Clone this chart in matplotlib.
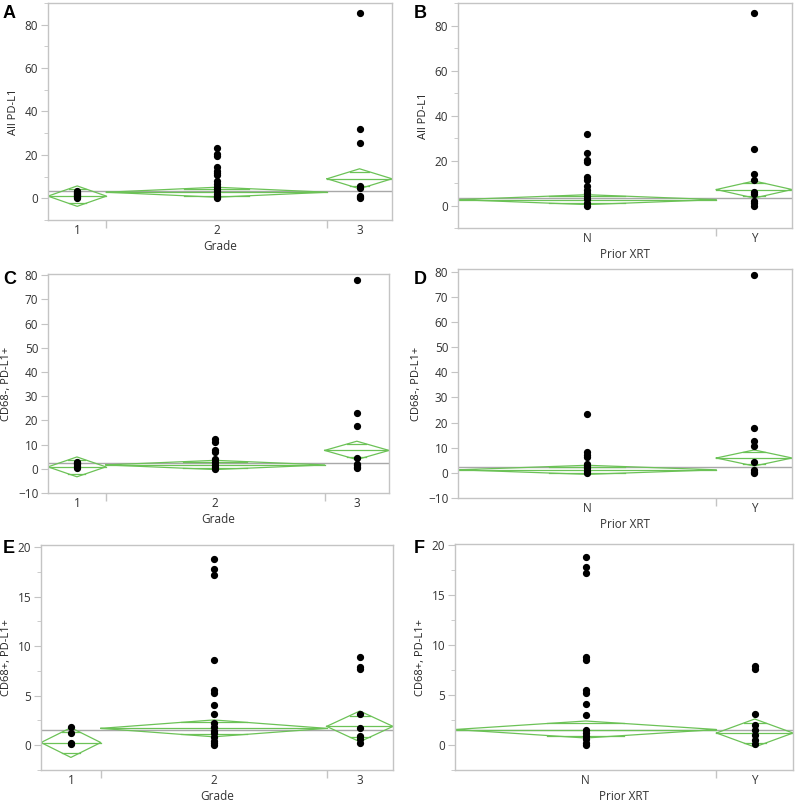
import matplotlib as mpl
mpl.use('Agg')
import matplotlib.pyplot as plt
import numpy as np

plt.rcParams['font.family'] = ['Open Sans', 'DejaVu Sans']

# group labels and group sizes (JMP draws category widths proportional to n)
grade_labels = ["1", "2", "3"]
grade_n = [9, 34, 10]
xrt_labels = ["N", "Y"]
xrt_n = [41, 12]

# Panel A: All PD-L1 by Grade
a_points = [[0.2, 0.5, 0.9, 1.3, 1.8, 2.3, 2.8, 3.2],
            [23.1, 20.3, 19.6, 14.2, 12.7, 11.6, 10.8, 8.1, 6.6, 5.0, 4.2, 3.5, 2.0, 1.2, 0.5, 0.0],
            [85.6, 31.8, 25.4, 5.8, 4.7, 1.2, 0.4, 0.0]]
a_mean = [1.0, 2.8, 9.0]
a_ci = [4.7, 2.3, 4.6]
a_grand = 3.5

# Panel B: All PD-L1 by Prior XRT
b_points = [[31.7, 23.3, 20.3, 19.3, 12.7, 11.5, 8.5, 7.1, 5.6, 4.1, 2.7, 1.2, 0.0],
            [85.6, 25.2, 14.1, 11.5, 5.9, 4.9, 1.9, 0.9, 0.0]]
b_mean = [2.6, 7.1]
b_ci = [2.2, 3.8]
b_grand = 3.4

# Panel C: CD68-, PD-L1+ by Grade
c_points = [[3.0, 2.5, 1.8, 1.0, 0.5],
            [12.5, 11.1, 7.6, 7.0, 3.9, 2.8, 1.7, 0.8, 0.1],
            [77.9, 23.1, 17.7, 4.6, 2.1, 1.4, 0.8, 0.3]]
c_mean = [0.8, 1.6, 7.6]
c_ci = [4.1, 1.9, 3.8]
c_grand = 2.4

# Panel D: CD68-, PD-L1+ by Prior XRT
d_points = [[23.4, 8.2, 7.2, 6.1, 3.7, 2.8, 1.8, 0.8, 0.0],
            [78.5, 17.9, 12.5, 10.6, 4.5, 1.2, 0.5, 0.0]]
d_mean = [1.2, 5.9]
d_ci = [1.8, 3.2]
d_grand = 2.4

# Panel E: CD68+, PD-L1+ by Grade
e_points = [[1.8, 1.2, 0.2, 0.1],
            [18.8, 17.8, 17.2, 8.6, 5.6, 5.3, 4.1, 3.1, 2.2, 1.8, 1.4, 1.2, 0.8, 0.4, 0.2, 0.0],
            [8.9, 7.9, 7.7, 3.2, 1.7, 0.9, 0.6, 0.2]]
e_mean = [0.27, 1.7, 1.9]
e_ci = [1.5, 0.85, 1.55]
e_grand = 1.56

# Panel F: CD68+, PD-L1+ by Prior XRT
f_points = [[18.8, 17.8, 17.2, 8.8, 8.5, 5.5, 5.2, 4.1, 3.0, 1.5, 1.2, 0.9, 0.6, 0.2, 0.0],
            [7.9, 7.6, 3.1, 2.0, 1.5, 1.0, 0.55, 0.1]]
f_mean = [1.55, 1.2]
f_ci = [0.85, 1.4]
f_grand = 1.5

W, H = 800, 805
fig = plt.figure(figsize=(W / 100, H / 100), dpi=100)

green = '#6cc257'
frame = '#c4c4c4'


def px_axes(l, t, r, b):
    return fig.add_axes([l / W, (H - b) / H, (r - l) / W, (b - t) / H])


def oneway(ax, labels, n, points, mean, ci, grand, ylim, major, minor, ylabel, xlabel):
    edges = np.concatenate([[0], np.cumsum(n)]).astype(float)
    centers = (edges[:-1] + edges[1:]) / 2
    ax.axhline(grand, color='#a8a8a8', lw=1.0, zorder=1)
    for i in range(len(labels)):
        x0, x1, xc = edges[i], edges[i + 1], centers[i]
        m, c = mean[i], ci[i]
        # means diamond: mean line, 95% CI tips, overlap marks
        ax.plot([x0, xc, x1, xc, x0], [m, m + c, m, m - c, m], color=green, lw=0.9, zorder=2)
        ax.plot([x0, x1], [m, m], color=green, lw=0.9, zorder=2)
        ov = c / np.sqrt(2)
        hw = (x1 - x0) / 2 * (1 - 1 / np.sqrt(2))
        for s in (1, -1):
            ax.plot([xc - hw, xc + hw], [m + s * ov, m + s * ov], color=green, lw=0.9, zorder=2)
        ax.plot(np.full(len(points[i]), xc), points[i], 'o', color='black', ms=4.2, zorder=3)
    ax.set_xlim(edges[0], edges[-1])
    ax.set_ylim(*ylim)
    ax.set_xticks(centers)
    ax.set_xticklabels(labels)
    ax.set_xticks(edges[1:-1], minor=True)
    ax.tick_params(axis='x', which='major', length=0, pad=3, labelsize=8.5, labelcolor='#333333')
    ax.tick_params(axis='x', which='minor', length=6, color=frame, width=1)
    ax.set_yticks(major)
    if minor is not None:
        ax.set_yticks(minor, minor=True)
    ax.tick_params(axis='y', which='major', length=5, color=frame, labelsize=8.5, labelcolor='#333333', pad=2)
    ax.tick_params(axis='y', which='minor', length=3, color=frame)
    for sp in ax.spines.values():
        sp.set_color(frame)
        sp.set_linewidth(1.0)
    ax.set_ylabel(ylabel, fontsize=8, color='#222222', labelpad=4)
    ax.set_xlabel(xlabel, fontsize=8.5, color='#333333', labelpad=2)


axA = px_axes(48, 3, 392, 220)
oneway(axA, grade_labels, grade_n, a_points, a_mean, a_ci, a_grand, (-9.5, 90),
       [0, 20, 40, 60, 80], np.arange(-10, 91, 10), 'All PD-L1', 'Grade')
axB = px_axes(458, 3, 792, 228)
oneway(axB, xrt_labels, xrt_n, b_points, b_mean, b_ci, b_grand, (-10, 90),
       [0, 20, 40, 60, 80], np.arange(-10, 91, 10), 'All PD-L1', 'Prior XRT')
axC = px_axes(48, 274, 389, 493)
oneway(axC, grade_labels, grade_n, c_points, c_mean, c_ci, c_grand, (-10, 80.5),
       np.arange(-10, 81, 10), None, 'CD68-, PD-L1+', 'Grade')
axD = px_axes(458, 269, 792, 498)
oneway(axD, xrt_labels, xrt_n, d_points, d_mean, d_ci, d_grand, (-10, 81),
       np.arange(-10, 81, 10), None, 'CD68-, PD-L1+', 'Prior XRT')
axE = px_axes(41, 545, 393, 770)
oneway(axE, grade_labels, grade_n, e_points, e_mean, e_ci, e_grand, (-2.4, 20.2),
       [0, 5, 10, 15, 20], np.arange(-2.5, 20.1, 2.5), 'CD68+, PD-L1+', 'Grade')
axF = px_axes(455, 544, 793, 770)
oneway(axF, xrt_labels, xrt_n, f_points, f_mean, f_ci, f_grand, (-2.5, 20.1),
       [0, 5, 10, 15, 20], np.arange(-2.5, 20.1, 2.5), 'CD68+, PD-L1+', 'Prior XRT')

for letter, x, y in [('A', 3, 14), ('B', 414, 14), ('C', 3, 279), ('D', 414, 279),
                     ('E', 3, 548), ('F', 414, 548)]:
    fig.text(x / W, 1 - y / H, letter, fontsize=13, fontweight='bold', va='center', ha='left',
             family=['Liberation Sans', 'DejaVu Sans'])

fig.savefig('out.png', dpi=100)
